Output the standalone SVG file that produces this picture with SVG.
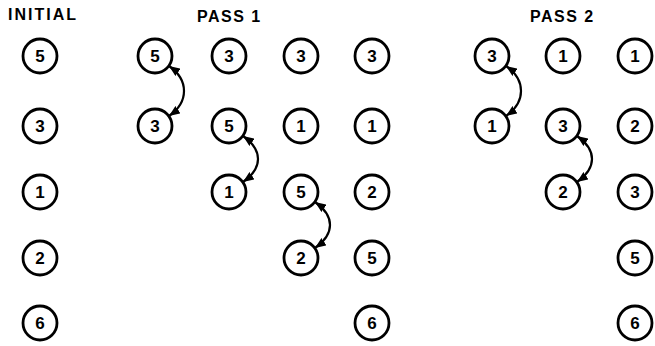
<svg xmlns="http://www.w3.org/2000/svg" width="655" height="346" viewBox="0 0 655 346">
<defs>
<style>
.n circle{fill:#fff;stroke:#000;stroke-width:2.8}
.n text{font-family:"Liberation Sans",Arial,sans-serif;font-weight:bold;font-size:17px;text-anchor:middle;fill:#000}
.h{font-family:"Liberation Sans",Arial,sans-serif;font-weight:bold;font-size:16px;fill:#000}
.c path{fill:none;stroke:#000;stroke-width:2.2}
</style>
<marker id="ah" viewBox="0 0 11 9" refX="11" refY="4.5" markerWidth="11" markerHeight="9" markerUnits="userSpaceOnUse" orient="auto-start-reverse">
<path d="M0,0 L11,4.5 L0,9 Z" fill="#000"/>
</marker>
</defs>
<rect width="655" height="346" fill="#fff"/>
<text class="h" x="8" y="20" letter-spacing="2">INITIAL</text>
<text class="h" x="197" y="22" letter-spacing="1.5">PASS 1</text>
<text class="h" x="530" y="22" letter-spacing="1.5">PASS 2</text>

<g class="c" id="connectors">
<path d="M169,66 C189,80 189,102 169,116" marker-start="url(#ah)" marker-end="url(#ah)"/>
<path d="M243,136 C263,150 263,168 243,182" marker-start="url(#ah)" marker-end="url(#ah)"/>
<path d="M315,202 C335,216 335,234 315,248" marker-start="url(#ah)" marker-end="url(#ah)"/>
<path d="M506,66 C526,80 526,102 506,116" marker-start="url(#ah)" marker-end="url(#ah)"/>
<path d="M577,136 C597,150 597,168 577,182" marker-start="url(#ah)" marker-end="url(#ah)"/>
</g>

<g class="n" id="i0"><circle cx="40" cy="56" r="17"/><text x="40" y="62">5</text></g>
<g class="n" id="i1"><circle cx="40" cy="126" r="17"/><text x="40" y="132">3</text></g>
<g class="n" id="i2"><circle cx="40" cy="192" r="17"/><text x="40" y="198">1</text></g>
<g class="n" id="i3"><circle cx="40" cy="258" r="17"/><text x="40" y="264">2</text></g>
<g class="n" id="i4"><circle cx="40" cy="323" r="17"/><text x="40" y="329">6</text></g>

<g class="n" id="a0"><circle cx="155" cy="56" r="17"/><text x="155" y="62">5</text></g>
<g class="n" id="a1"><circle cx="155" cy="126" r="17"/><text x="155" y="132">3</text></g>

<g class="n" id="b0"><circle cx="229" cy="56" r="17"/><text x="229" y="62">3</text></g>
<g class="n" id="b1"><circle cx="229" cy="126" r="17"/><text x="229" y="132">5</text></g>
<g class="n" id="b2"><circle cx="229" cy="192" r="17"/><text x="229" y="198">1</text></g>

<g class="n" id="c0"><circle cx="301" cy="56" r="17"/><text x="301" y="62">3</text></g>
<g class="n" id="c1"><circle cx="301" cy="126" r="17"/><text x="301" y="132">1</text></g>
<g class="n" id="c2"><circle cx="301" cy="192" r="17"/><text x="301" y="198">5</text></g>
<g class="n" id="c3"><circle cx="301" cy="258" r="17"/><text x="301" y="264">2</text></g>

<g class="n" id="d0"><circle cx="372" cy="56" r="17"/><text x="372" y="62">3</text></g>
<g class="n" id="d1"><circle cx="372" cy="126" r="17"/><text x="372" y="132">1</text></g>
<g class="n" id="d2"><circle cx="372" cy="192" r="17"/><text x="372" y="198">2</text></g>
<g class="n" id="d3"><circle cx="372" cy="258" r="17"/><text x="372" y="264">5</text></g>
<g class="n" id="d4"><circle cx="372" cy="323" r="17"/><text x="372" y="329">6</text></g>

<g class="n" id="e0"><circle cx="492" cy="56" r="17"/><text x="492" y="62">3</text></g>
<g class="n" id="e1"><circle cx="492" cy="126" r="17"/><text x="492" y="132">1</text></g>

<g class="n" id="f0"><circle cx="563" cy="56" r="17"/><text x="563" y="62">1</text></g>
<g class="n" id="f1"><circle cx="563" cy="126" r="17"/><text x="563" y="132">3</text></g>
<g class="n" id="f2"><circle cx="563" cy="192" r="17"/><text x="563" y="198">2</text></g>

<g class="n" id="g0"><circle cx="635" cy="56" r="17"/><text x="635" y="62">1</text></g>
<g class="n" id="g1"><circle cx="635" cy="126" r="17"/><text x="635" y="132">2</text></g>
<g class="n" id="g2"><circle cx="635" cy="192" r="17"/><text x="635" y="198">3</text></g>
<g class="n" id="g3"><circle cx="635" cy="258" r="17"/><text x="635" y="264">5</text></g>
<g class="n" id="g4"><circle cx="635" cy="323" r="17"/><text x="635" y="329">6</text></g>
</svg>
